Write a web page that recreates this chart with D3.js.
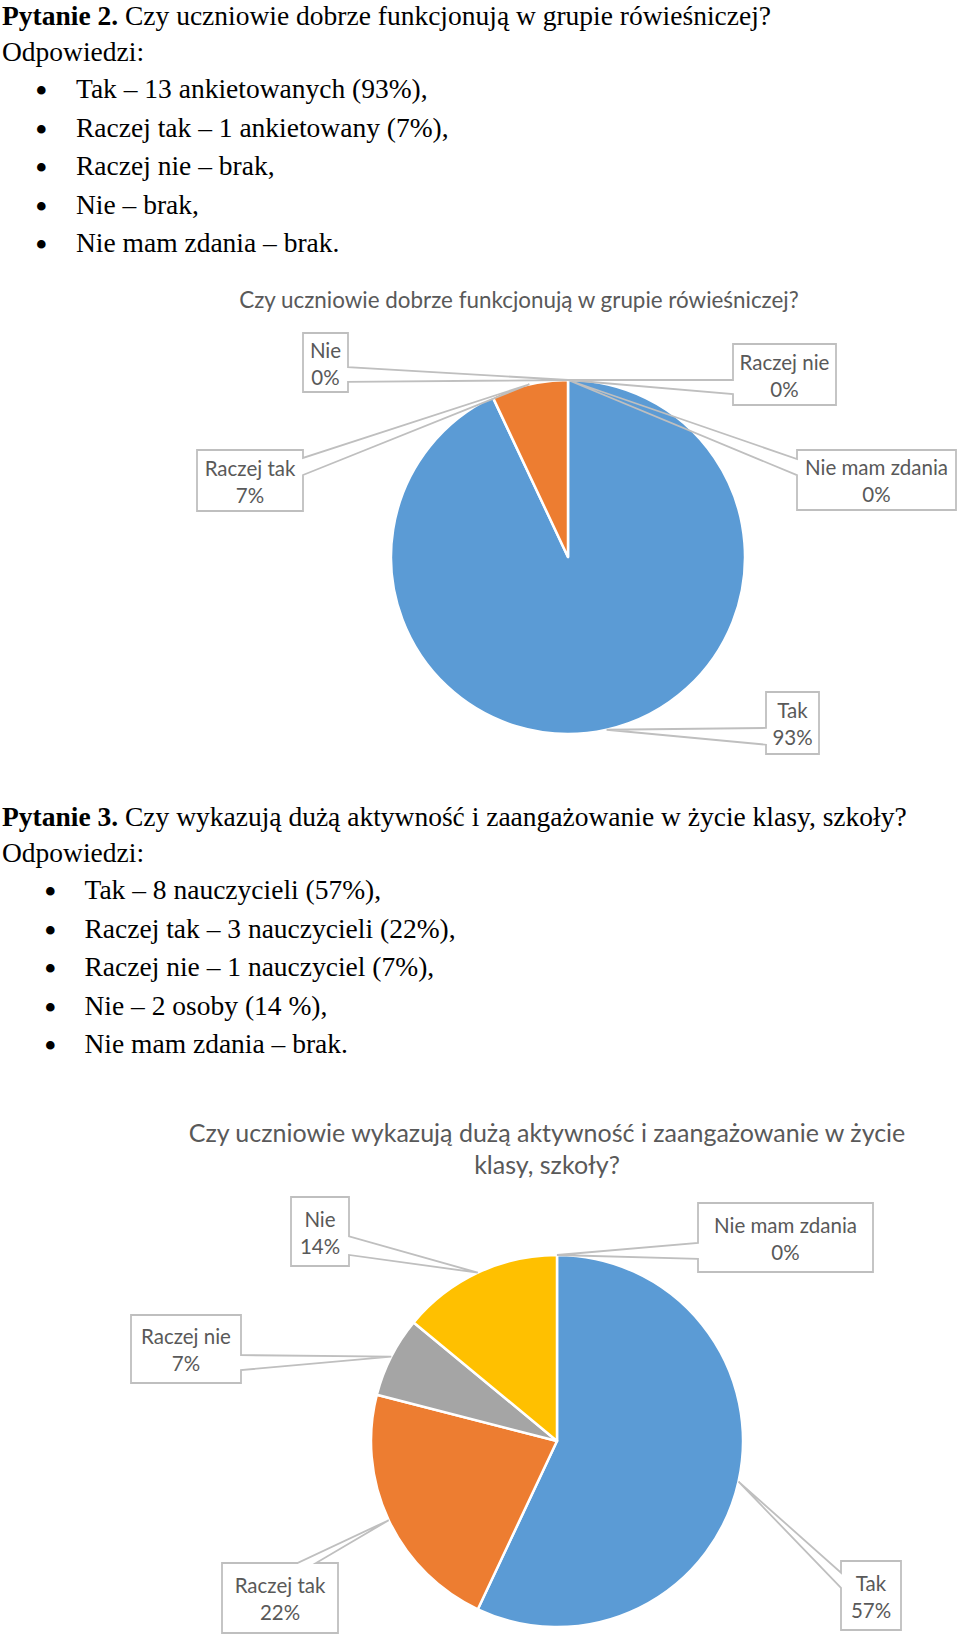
<!DOCTYPE html>
<html>
<head>
<meta charset="utf-8">
<script src="https://cdn.jsdelivr.net/npm/d3@7"></script>
<style>
  body { margin: 0; background: #fff; }
  svg { display: block; }
  .body-text { font-family: "Liberation Serif", "Times New Roman", serif; font-size: 27.5px; fill: #000; }
  .chart-title { font-family: Lato, "Open Sans", sans-serif; fill: #595959; }
  .callout-text { font-family: Lato, "Open Sans", sans-serif; font-size: 20.5px; fill: #595959; }
</style>
</head>
<body>
<svg id="page" width="960" height="1637"></svg>
<script>
// answer categories shared by both questions
const answers = ["Tak", "Raczej tak", "Raczej nie", "Nie", "Nie mam zdania"];
const sliceColors = ["#5b9bd5", "#ed7d31", "#a5a5a5", "#ffc000", "#4472c4"];

// percentages
const q2Percent = [93, 7, 0, 0, 0];
const q3Percent = [57, 22, 7, 14, 0];

const q2Heading = ["Pytanie 2.", " Czy uczniowie dobrze funkcjonują w grupie rówieśniczej?"];
const q2Items = [
  "Tak – 13 ankietowanych (93%),",
  "Raczej tak – 1 ankietowany (7%),",
  "Raczej nie – brak,",
  "Nie – brak,",
  "Nie mam zdania – brak."
];
const q3Heading = ["Pytanie 3.", " Czy wykazują dużą aktywność i zaangażowanie w życie klasy, szkoły?"];
const q3Items = [
  "Tak – 8 nauczycieli (57%),",
  "Raczej tak – 3 nauczycieli (22%),",
  "Raczej nie – 1 nauczyciel (7%),",
  "Nie – 2 osoby (14 %),",
  "Nie mam zdania – brak."
];
const q2ChartTitle = ["Czy uczniowie dobrze funkcjonują w grupie rówieśniczej?"];
const q3ChartTitle = ["Czy uczniowie wykazują dużą aktywność i zaangażowanie w życie", "klasy, szkoły?"];

const svg = d3.select("#page");

// ---- document text blocks ----
function drawSection(heading, items, top, bulletX, textX){
  const g = svg.append("g").attr("class", "body-text");
  const h = g.append("text").attr("x", 2).attr("y", top);
  h.append("tspan").attr("font-weight", "bold").text(heading[0]);
  h.append("tspan").text(heading[1]);
  g.append("text").attr("x", 2).attr("y", top + 36).text("Odpowiedzi:");
  const rows = g.selectAll("g.item").data(items).join("g").attr("class", "item");
  rows.append("text")
    .attr("x", bulletX).attr("y", (d, i) => top + 73 + i * 38.5 + 5)
    .attr("font-size", 36)
    .text("•");
  rows.append("text")
    .attr("x", textX).attr("y", (d, i) => top + 73 + i * 38.5)
    .text(d => d);
}
drawSection(q2Heading, q2Items, 25, 35, 76);
drawSection(q3Heading, q3Items, 826, 44, 84.5);

// ---- pie charts with Excel-like callouts ----
function calloutPath(b, anchor){
  const [ax, ay] = anchor;
  const x0 = b.x, y0 = b.y, x1 = b.x + b.w, y1 = b.y + b.h;
  const p = d3.path();
  p.moveTo(x0, y0);
  if (b.side === "top"){
    p.lineTo(x0 + b.f[0] * b.w, y0); p.lineTo(ax, ay); p.lineTo(x0 + b.f[1] * b.w, y0);
  }
  p.lineTo(x1, y0);
  if (b.side === "right"){
    p.lineTo(x1, y0 + b.f[0] * b.h); p.lineTo(ax, ay); p.lineTo(x1, y0 + b.f[1] * b.h);
  }
  p.lineTo(x1, y1);
  if (b.side === "bottom"){
    p.lineTo(x0 + b.f[1] * b.w, y1); p.lineTo(ax, ay); p.lineTo(x0 + b.f[0] * b.w, y1);
  }
  p.lineTo(x0, y1);
  if (b.side === "left"){
    p.lineTo(x0, y0 + b.f[1] * b.h); p.lineTo(ax, ay); p.lineTo(x0, y0 + b.f[0] * b.h);
  }
  p.closePath();
  return p.toString();
}

function drawPie(cfg){
  const g = svg.append("g");
  const title = g.append("text").attr("class", "chart-title")
    .attr("text-anchor", "middle").attr("font-size", cfg.titleSize);
  cfg.title.forEach((t, i) => {
    title.append("tspan").attr("x", cfg.titleX).attr("y", cfg.titleY + i * 32).text(t);
  });

  const data = answers.map((a, i) => ({ name: a, value: cfg.values[i], color: sliceColors[i] }));
  const pie = d3.pie().sort(null).value(d => d.value);
  const arcs = pie(data);
  const arc = d3.arc().innerRadius(0).outerRadius(cfg.r);
  const edge = d3.arc().innerRadius(cfg.r).outerRadius(cfg.r);

  const pg = g.append("g").attr("transform", `translate(${cfg.cx},${cfg.cy})`);
  pg.selectAll("path")
    .data(arcs.filter(d => d.data.value > 0))
    .join("path")
    .attr("d", arc)
    .attr("fill", d => d.data.color)
    .attr("stroke", "#fff")
    .attr("stroke-width", 2.5)
    .attr("stroke-linejoin", "round");

  const fmt = d3.format(".0f");
  const lg = g.selectAll("g.callout").data(arcs).join("g").attr("class", "callout");
  lg.each(function(d, i){
    const b = cfg.boxes[i];
    const c = edge.centroid(d);
    const anchor = [cfg.cx + c[0], cfg.cy + c[1]];
    const s = d3.select(this);
    s.append("rect")
      .attr("x", b.x).attr("y", b.y).attr("width", b.w).attr("height", b.h)
      .attr("fill", "#fff");
    s.append("path")
      .attr("d", calloutPath(b, anchor))
      .attr("fill", "none")
      .attr("stroke", "#bfbfbf")
      .attr("stroke-width", 1.8);
    const t = s.append("text").attr("class", "callout-text").attr("text-anchor", "middle");
    t.append("tspan").attr("x", b.x + b.w / 2).attr("y", b.y + b.h / 2 - 5).text(d.data.name);
    t.append("tspan").attr("x", b.x + b.w / 2).attr("y", b.y + b.h / 2 + 22).text(fmt(d.data.value) + "%");
  });
}

drawPie({
  title: q2ChartTitle, titleX: 519, titleY: 308, titleSize: 22.4,
  values: q2Percent, cx: 568, cy: 557, r: 177,
  boxes: [
    { x: 766, y: 692, w: 53, h: 62, side: "left", f: [0.58, 0.85] },
    { x: 197, y: 450, w: 106, h: 61, side: "right", f: [0.13, 0.41] },
    { x: 733, y: 344, w: 103, h: 61, side: "left", f: [0.59, 0.82] },
    { x: 303, y: 333, w: 45, h: 59, side: "right", f: [0.58, 0.83] },
    { x: 797, y: 450, w: 159, h: 60, side: "left", f: [0.15, 0.42] }
  ]
});

drawPie({
  title: q3ChartTitle, titleX: 547, titleY: 1142, titleSize: 25,
  values: q3Percent, cx: 557, cy: 1441, r: 186,
  boxes: [
    { x: 841, y: 1561, w: 60, h: 69, side: "left", f: [0.17, 0.39] },
    { x: 222, y: 1563, w: 116, h: 70, side: "top", f: [0.65, 0.81] },
    { x: 131, y: 1315, w: 110, h: 68, side: "right", f: [0.59, 0.81] },
    { x: 291, y: 1197, w: 58, h: 69, side: "right", f: [0.57, 0.84] },
    { x: 698, y: 1203, w: 175, h: 69, side: "left", f: [0.58, 0.81] }
  ]
});
</script>
</body>
</html>
